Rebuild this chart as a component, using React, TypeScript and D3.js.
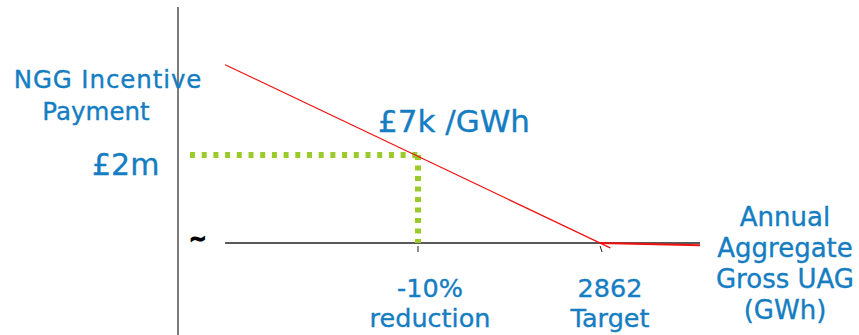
import React from 'react';
import * as d3 from 'd3';

// UAG in GWh (x) vs incentive payment in £m (y)
const slopeUag = [2273, 2878];
const slopePayment = [4.05, -0.11];
const flatUag = [2862, 3019];
const flatPayment = [0, -0.05];
const baselineUag = [2273, 3019];
const reductionUag = 2576;
const reductionPayment = 2;
const tickUag = [2576, 2862];
const tickLabels = [['-10%', 'reduction'], ['2862', 'Target']];
const yLabel = ['NGG Incentive', 'Payment'];
const xLabel = ['Annual', 'Aggregate', 'Gross UAG', '(GWh)'];

const W = 859;
const H = 335;
const blue = '#157dc2';
const green = '#9bcb2a';
const font = '"DejaVu Sans", Verdana, sans-serif';

const App = () => {
  const x = d3.scaleLinear().domain([2199, 3019]).range([178, 700]);
  const y = d3.scaleLinear().domain([0, 5.36]).range([243, 7]);
  const line = d3.line<[number, number]>().x(d => x(d[0])).y(d => y(d[1]));

  const slope = slopeUag.map((u, i) => [u, slopePayment[i]] as [number, number]);
  const flat = flatUag.map((u, i) => [u, flatPayment[i]] as [number, number]);
  const x0 = x.range()[0];

  return (
    <svg width={W} height={H} style={{ position: 'absolute', left: 0, top: 0, background: '#fff' }}>
      {/* y axis */}
      <line x1={x0} x2={x0} y1={y(5.36)} y2={H} stroke="#333" strokeWidth={1.3} />
      {/* baseline */}
      <line x1={x(baselineUag[0])} x2={x(baselineUag[1])} y1={y(0)} y2={y(0)} stroke="#222" strokeWidth={1.3} />
      {/* ticks */}
      <line x1={x(tickUag[0])} x2={x(tickUag[0])} y1={y(0) + 3} y2={y(0) + 9} stroke="#222" strokeWidth={1} />
      <line x1={x(tickUag[1])} x2={x(tickUag[1]) + 2} y1={y(0) + 3} y2={y(0) + 9} stroke="#222" strokeWidth={1} />
      {/* green guides */}
      <path
        d={`M${x0 + 12},${y(reductionPayment)}H${x(reductionUag)}`}
        stroke={green} strokeWidth={6} strokeDasharray="5 6.7" fill="none"
      />
      <path
        d={`M${x(reductionUag)},${y(reductionPayment)}V${y(0)}`}
        stroke={green} strokeWidth={6} strokeDasharray="5 5.5" fill="none"
      />
      {/* red incentive line */}
      <path d={line(slope) || ''} stroke="#f01010" strokeWidth={1.2} fill="none" />
      <path d={line(flat) || ''} stroke="#f01010" strokeWidth={2} fill="none" />

      <g fill={blue} fontFamily={font} stroke={blue} strokeWidth={0.35}>
        <text x={108} y={88} fontSize={24.5} textAnchor="middle" letterSpacing={0.9}>{yLabel[0]}</text>
        <text x={96} y={120} fontSize={24.5} textAnchor="middle">{yLabel[1]}</text>
        <text x={92} y={175} fontSize={30}>£2m</text>
        <text x={378} y={132} fontSize={31}>£7k /GWh</text>
        {tickUag.map((t, i) => (
          <g key={t}>
            <text x={x(t) + (i === 0 ? 12 : 10)} y={297} fontSize={25.5} textAnchor="middle">{tickLabels[i][0]}</text>
            <text x={x(t) + (i === 0 ? 12 : 10)} y={327} fontSize={25.5} textAnchor="middle">{tickLabels[i][1]}</text>
          </g>
        ))}
        {xLabel.map((l, i) => (
          <text key={l} x={785} y={226 + i * 31} fontSize={26} textAnchor="middle">{l}</text>
        ))}
      </g>
      <text x={189} y={246} fontSize={21} fontWeight="bold" fontFamily={font} fill="#000" stroke="#000" strokeWidth={1.2}>~</text>
    </svg>
  );
};

export default App;
